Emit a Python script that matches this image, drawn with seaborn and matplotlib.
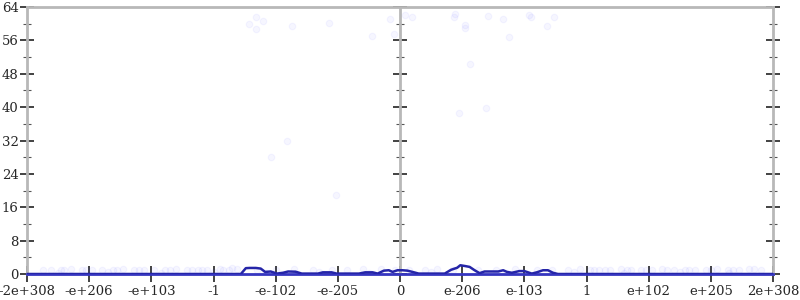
import matplotlib
matplotlib.use("Agg")
import matplotlib.pyplot as plt
import seaborn as sns
import pandas as pd
from matplotlib.ticker import MultipleLocator, NullFormatter

sns.set_theme(style="white")
plt.rcParams['font.family'] = ['DejaVu Serif']

# x positions are in the chart's transformed units (-6 .. 6), one unit per labelled tick
tick_pos = [-6, -5, -4, -3, -2, -1, 0, 1, 2, 3, 4, 5, 6]
tick_labels = ["-2e+308", "-e+206", "-e+103", "-1", "-e-102", "-e-205", "0",
               "e-206", "e-103", "1", "e+102", "e+205", "2e+308"]

# main line (count per bucket)
line_x = [-6.0, -2.56, -2.48, -2.42, -2.32, -2.24, -2.17, -2.08, -1.98, -1.88,
          -1.80, -1.68, -1.58, -1.32, -1.24, -1.10, -1.02, -0.66, -0.56, -0.44,
          -0.36, -0.26, -0.18, -0.12, -0.04, 0.04, 0.12, 0.20, 0.30, 0.72,
          0.82, 0.92, 0.97, 1.05, 1.12, 1.20, 1.28, 1.36, 1.50, 1.58,
          1.66, 1.72, 1.80, 1.92, 2.00, 2.12, 2.20, 2.30, 2.38, 2.46,
          2.54, 2.62, 6.0]
line_y = [0.0, 0.0, 1.4, 1.45, 1.45, 1.3, 0.5, 0.6, 0.1, 0.3,
          0.6, 0.55, 0.1, 0.1, 0.4, 0.4, 0.1, 0.1, 0.4, 0.4,
          0.1, 0.8, 0.9, 0.5, 0.9, 0.9, 0.8, 0.5, 0.1, 0.1,
          1.0, 1.5, 2.1, 1.9, 1.7, 0.9, 0.2, 0.6, 0.6, 0.6,
          0.9, 0.5, 0.3, 0.7, 0.7, 0.1, 0.4, 0.9, 0.9, 0.3,
          0.0, 0.0, 0.0]

# faint sample points
pt_x = [-2.43, -2.31, -2.21, -2.31, -1.74, -1.15, -0.45, -0.16, -0.10,
        0.08, 0.20, 0.88, 0.87, 1.04, 1.05, 1.42, 1.66, 2.08, 2.10, 2.48, 2.37,
        1.76, 1.12, 1.39, 0.95, -1.81, -2.08, -1.03,
        -5.75, -5.62, -5.45, -5.30, -5.12, -4.95, -4.80, -4.62, -4.45, -4.28,
        -4.12, -3.95, -3.78, -3.60, -3.42, -3.25, -3.10, -2.90, -2.75, -2.62,
        -2.30, -2.00, -1.70, -1.40, -1.10, -0.85, -0.60, -0.30, -0.08,
        0.15, 0.40, 0.60, 0.85, 1.25, 1.55, 1.85, 2.20, 2.45, 2.70,
        2.90, 3.05, 3.20, 3.38, 3.55, 3.72, 3.88, 4.05, 4.22, 4.40,
        4.58, 4.75, 4.92, 5.10, 5.28, 5.45, 5.62, 5.80,
        -5.50, -4.70, -3.85, -3.00, -2.15, -1.30, -0.50, 0.50, 1.70,
        2.80, 3.60, 4.50, 5.30,
        -5.40, -5.05, -4.55, -4.20, -3.70, -3.35, -2.85, -2.70, -3.18,
        3.12, 3.30, 3.65, 3.95, 4.30, 4.65, 5.00, 5.35, 5.70]
pt_y = [59.9, 61.7, 60.7, 58.8, 59.5, 60.1, 57.1, 61.2, 57.6,
        62.1, 61.7, 62.3, 61.5, 59.7, 58.9, 61.9, 61.1, 62.1, 61.7, 61.5, 59.4,
        56.7, 50.3, 39.7, 38.7, 32.0, 28.0, 19.0,
        1.0, 1.0, 0.9, 1.1, 1.0, 0.9, 1.0, 1.0, 1.1, 0.9,
        1.0, 1.0, 0.9, 1.1, 1.0, 1.0, 0.9, 1.1, 1.0, 1.2,
        1.0, 0.9, 1.1, 1.0, 1.0, 0.9, 1.1, 1.2, 1.0,
        1.0, 0.9, 1.1, 1.0, 1.0, 0.9, 1.1, 1.0, 1.0, 1.0,
        1.1, 0.9, 1.0, 1.0, 1.1, 0.9, 1.0, 1.0, 1.1, 0.9,
        1.0, 1.0, 0.9, 1.1, 1.0, 1.0, 1.2, 1.0,
        0.3, 0.4, 0.3, 0.4, 0.3, 0.4, 0.3, 0.4, 0.3,
        0.4, 0.3, 0.4, 0.3,
        1.0, 1.0, 1.0, 1.0, 1.0, 1.0, 1.0, 1.4, 1.0,
        1.0, 1.0, 1.0, 1.0, 1.0, 1.0, 1.0, 1.0, 1.3]

line_df = pd.DataFrame({"x": line_x, "y": line_y})
pt_df = pd.DataFrame({"x": pt_x, "y": pt_y})

fig = plt.figure(figsize=(8, 3), dpi=100)
ax = fig.add_axes([27 / 800, 26 / 300, 746 / 800, 267 / 300])

ax.axvline(0, color="#b8b8b8", linewidth=2, zorder=1)

sns.scatterplot(data=pt_df, x="x", y="y", ax=ax, color="#3030ff", alpha=0.045,
                s=22, edgecolor="#3030ff", linewidth=0.8, zorder=2, legend=False)
sns.lineplot(data=line_df, x="x", y="y", ax=ax, color="#2525a8", linewidth=1.8,
             zorder=4, estimator=None, sort=False)

ax.set_xlim(-6, 6)
ax.set_ylim(0, 64)
ax.set_xlabel("")
ax.set_ylabel("")

ax.set_xticks(tick_pos)
ax.set_xticklabels(tick_labels)
ax.yaxis.set_major_locator(MultipleLocator(8))
ax.yaxis.set_minor_locator(MultipleLocator(4))

for side in ["left", "right", "top"]:
    ax.spines[side].set_color("#b8b8b8")
    ax.spines[side].set_linewidth(2)
ax.spines["bottom"].set_color("#3535c0")
ax.spines["bottom"].set_linewidth(2)

ax.tick_params(axis="y", which="major", direction="inout", length=10, width=1.2,
               color="#222222", left=True, right=True, labelright=False,
               labelsize=9.5, pad=1)
ax.tick_params(axis="y", which="minor", direction="inout", length=6, width=0.8,
               color="#555555", left=True, right=True)
ax.tick_params(axis="x", which="major", direction="inout", length=12, width=1.2,
               color="#222222", bottom=True, labelsize=9.5, pad=2)

# tick marks on the central axis at x = 0 (no labels, no spine)
sec = ax.secondary_yaxis(0.5)
for sp in sec.spines.values():
    sp.set_visible(False)
sec.yaxis.set_major_locator(MultipleLocator(8))
sec.yaxis.set_minor_locator(MultipleLocator(4))
sec.yaxis.set_major_formatter(NullFormatter())
sec.yaxis.set_minor_formatter(NullFormatter())
sec.tick_params(axis="y", which="major", direction="inout", length=10, width=1.2,
                color="#222222", labelleft=False, labelright=False)
sec.tick_params(axis="y", which="minor", direction="inout", length=6, width=0.8,
                color="#555555")

fig.savefig("out.png", dpi=100)
